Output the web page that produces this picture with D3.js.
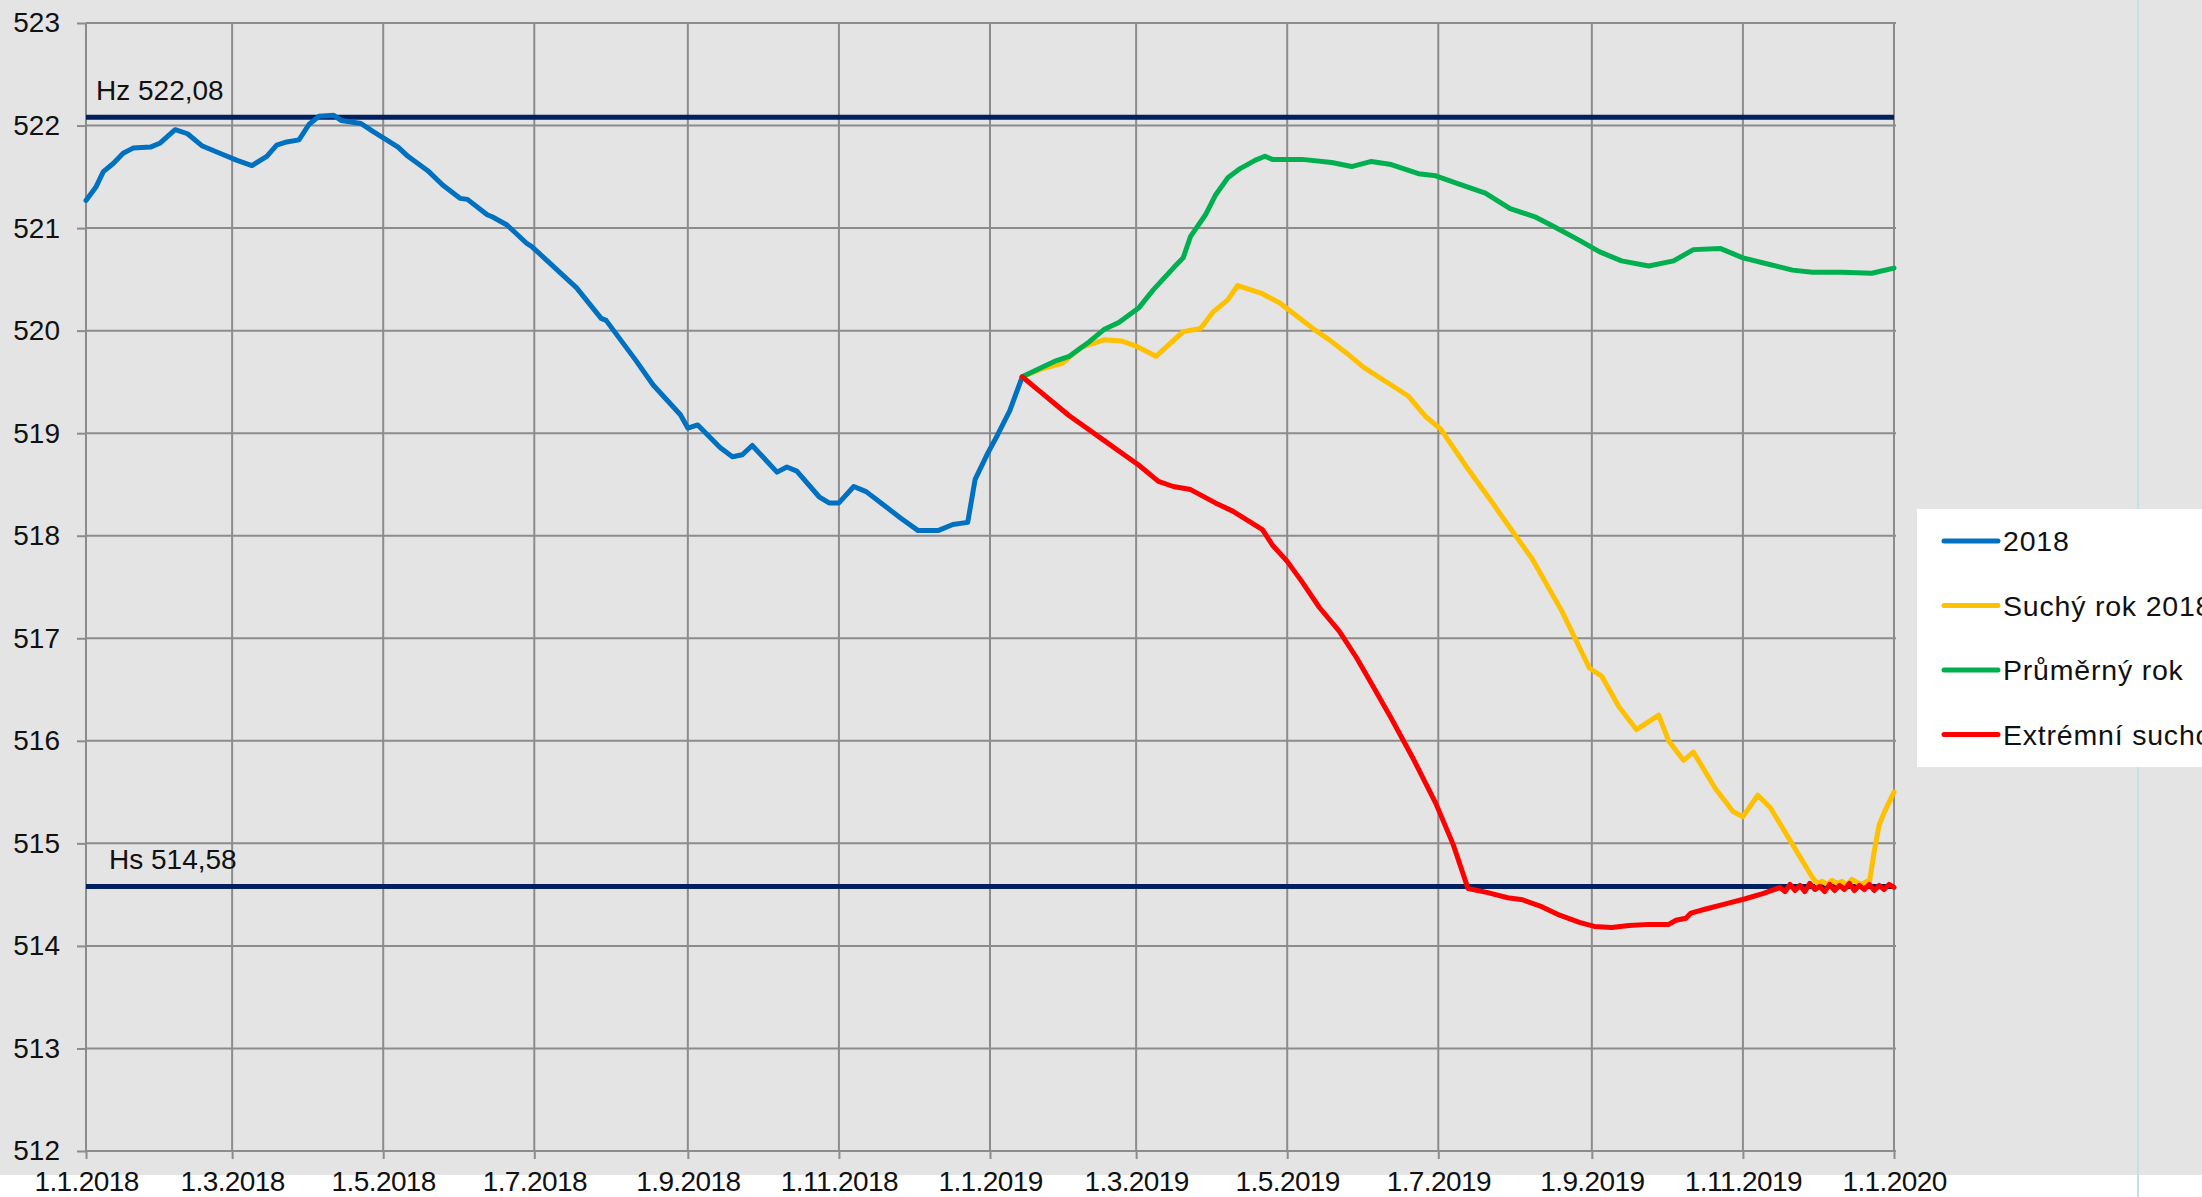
<!DOCTYPE html>
<html>
<head>
<meta charset="utf-8">
<script src="https://cdn.jsdelivr.net/npm/d3@7"></script>
<style>
  body { margin: 0; background: #fff; }
  svg { display: block; font-family: "Liberation Sans", Arial, sans-serif; }
</style>
</head>
<body>
<svg id="chart"></svg>
<script>
// day offsets are counted from 1.1.2018
const seriesNames = ["2018", "Suchý rok 2018", "Průměrný rok", "Extrémní sucho"];
const seriesColors = ["#0070C0", "#FFC000", "#00B050", "#FF0000"];

const blueDay = [0, 4, 7, 11, 15, 19, 26, 30, 36, 41, 47, 55, 61, 67, 73, 77, 81, 86, 90, 94, 100, 103, 111, 116, 126, 130, 138, 144, 151, 154, 162, 164, 170, 178, 180, 189, 198, 208, 210, 222, 229, 240, 243, 247, 256, 261, 265, 269, 279, 283, 287, 296, 300, 304, 310, 315, 321, 329, 336, 344, 350, 356, 359, 364, 368, 373, 378];
const blueVal = [521.27, 521.40, 521.55, 521.63, 521.73, 521.78, 521.79, 521.83, 521.96, 521.92, 521.80, 521.72, 521.66, 521.61, 521.70, 521.81, 521.84, 521.86, 522.01, 522.09, 522.10, 522.05, 522.02, 521.94, 521.79, 521.70, 521.56, 521.42, 521.29, 521.28, 521.13, 521.11, 521.03, 520.85, 520.82, 520.62, 520.42, 520.12, 520.10, 519.71, 519.47, 519.18, 519.05, 519.08, 518.86, 518.77, 518.79, 518.88, 518.62, 518.67, 518.63, 518.38, 518.32, 518.32, 518.48, 518.43, 518.32, 518.17, 518.05, 518.05, 518.11, 518.13, 518.55, 518.80, 518.98, 519.22, 519.55];

const yellowDay = [378, 385, 394, 402, 411, 418, 424, 432, 438, 443, 450, 455, 461, 465, 475, 482, 489, 496, 502, 509, 516, 527, 534, 541, 547, 558, 567, 574, 584, 596, 607, 612, 619, 626, 635, 639, 645, 649, 658, 665, 669, 675, 680, 689, 697, 699, 701, 703, 705, 707, 709, 711, 713, 715, 717, 719, 720, 722, 724, 726, 728, 730];
const yellowVal = [519.55, 519.62, 519.68, 519.84, 519.91, 519.90, 519.85, 519.75, 519.88, 519.99, 520.02, 520.18, 520.30, 520.44, 520.36, 520.27, 520.14, 520.01, 519.91, 519.78, 519.64, 519.47, 519.36, 519.16, 519.04, 518.65, 518.35, 518.11, 517.77, 517.26, 516.71, 516.63, 516.33, 516.11, 516.25, 516.00, 515.81, 515.89, 515.53, 515.31, 515.26, 515.47, 515.35, 514.99, 514.67, 514.61, 514.63, 514.60, 514.64, 514.61, 514.63, 514.59, 514.65, 514.62, 514.60, 514.63, 514.61, 514.92, 515.18, 515.30, 515.40, 515.50];

const greenDay = [378, 385, 391, 397, 405, 411, 417, 425, 431, 439, 443, 446, 452, 456, 461, 466, 472, 476, 479, 491, 503, 511, 519, 527, 538, 545, 553, 565, 575, 585, 593, 603, 611, 620, 631, 641, 649, 660, 669, 679, 689, 697, 709, 721, 730];
const greenVal = [519.55, 519.63, 519.70, 519.75, 519.89, 520.01, 520.08, 520.22, 520.40, 520.61, 520.71, 520.92, 521.13, 521.32, 521.49, 521.58, 521.66, 521.70, 521.67, 521.67, 521.64, 521.60, 521.65, 521.62, 521.53, 521.51, 521.44, 521.34, 521.19, 521.11, 521.01, 520.88, 520.77, 520.68, 520.63, 520.68, 520.79, 520.80, 520.71, 520.65, 520.59, 520.57, 520.57, 520.56, 520.61];

const redDay = [378, 385, 392, 397, 404, 411, 418, 425, 433, 439, 446, 456, 463, 469, 475, 479, 485, 491, 498, 506, 513, 519, 527, 536, 545, 552, 558, 566, 574, 580, 588, 595, 603, 609, 616, 623, 631, 639, 642, 646, 648, 654, 662, 670, 677, 684, 686, 688, 690, 692, 694, 696, 698, 700, 702, 704, 706, 708, 710, 712, 714, 716, 718, 720, 722, 724, 726, 728, 730];
const redVal = [519.55, 519.41, 519.27, 519.17, 519.05, 518.93, 518.81, 518.69, 518.53, 518.48, 518.45, 518.32, 518.24, 518.15, 518.06, 517.91, 517.75, 517.55, 517.30, 517.07, 516.81, 516.56, 516.22, 515.82, 515.39, 514.99, 514.56, 514.52, 514.47, 514.45, 514.38, 514.30, 514.23, 514.19, 514.18, 514.20, 514.21, 514.21, 514.25, 514.27, 514.32, 514.36, 514.41, 514.46, 514.51, 514.57, 514.53, 514.60, 514.54, 514.59, 514.53, 514.61, 514.55, 514.58, 514.53, 514.60, 514.54, 514.59, 514.55, 514.61, 514.54, 514.59, 514.55, 514.60, 514.54, 514.59, 514.55, 514.60, 514.57];

const refLevels = [522.08, 514.58];
const refLabels = ["Hz 522,08", "Hs 514,58"];
const yTicks = [512, 513, 514, 515, 516, 517, 518, 519, 520, 521, 522, 523];

const dims = {
  width: 2202,
  height: 1197,
  bgHeight: 1175,
  left: 86,
  right: 1894,
  top: 23,
  bottom: 1151,
};

const start = new Date(Date.UTC(2018, 0, 1));
const end = new Date(Date.UTC(2020, 0, 1));

const svg = d3
  .select("#chart")
  .attr("width", dims.width)
  .attr("height", dims.height);

svg.append("rect").attr("width", dims.width).attr("height", dims.bgHeight).attr("fill", "#e4e4e4");

// stray sheet line on the right
svg
  .append("line")
  .attr("x1", 2138).attr("x2", 2138)
  .attr("y1", 0).attr("y2", dims.height)
  .attr("stroke", "#c6e0e6")
  .attr("stroke-width", 2);

const x = d3.scaleUtc().domain([start, end]).range([dims.left, dims.right]);
const y = d3.scaleLinear().domain([512, 523]).range([dims.bottom, dims.top]);

const xTicks = d3.utcMonth.every(2).range(start, d3.utcDay.offset(end, 1));
const fmt = d3.utcFormat("%-d.%-m.%Y");

// grid
const grid = svg.append("g").attr("stroke", "#8c8c8c").attr("stroke-width", 2);
grid
  .selectAll("line.h")
  .data(yTicks)
  .join("line")
  .attr("x1", dims.left)
  .attr("x2", dims.right + 2)
  .attr("y1", (d) => y(d))
  .attr("y2", (d) => y(d));
grid
  .selectAll("line.v")
  .data(xTicks)
  .join("line")
  .attr("x1", (d) => x(d))
  .attr("x2", (d) => x(d))
  .attr("y1", dims.top)
  .attr("y2", dims.bottom);

svg
  .append("g")
  .attr("transform", `translate(${dims.left},0)`)
  .call(d3.axisLeft(y).tickValues(yTicks).tickSize(9).tickPadding(17).tickFormat(d3.format("d")))
  .call((g) => {
    g.select("path.domain").remove();
    g.selectAll(".tick line").attr("stroke", "#8c8c8c").attr("stroke-width", 2);
    g.selectAll(".tick text")
      .attr("font-size", 28)
      .attr("font-family", "Liberation Sans, Arial")
      .attr("fill", "#111");
  });

svg
  .append("g")
  .attr("transform", `translate(0,${dims.bottom})`)
  .call(d3.axisBottom(x).tickValues(xTicks).tickSize(8).tickPadding(12).tickFormat(fmt))
  .call((g) => {
    g.select("path.domain").remove();
    g.selectAll(".tick line").attr("stroke", "#8c8c8c").attr("stroke-width", 2);
    g.selectAll(".tick text")
      .attr("font-size", 28)
      .attr("font-family", "Liberation Sans, Arial")
      .attr("letter-spacing", -0.6)
      .attr("fill", "#111");
  });

// Hz / Hs levels
svg
  .append("g")
  .selectAll("line")
  .data(refLevels)
  .join("line")
  .attr("x1", dims.left)
  .attr("x2", dims.right)
  .attr("y1", (d) => y(d))
  .attr("y2", (d) => y(d))
  .attr("stroke", "#002060")
  .attr("stroke-width", 5);

svg
  .append("g")
  .selectAll("text")
  .data(refLabels)
  .join("text")
  .attr("x", (d, i) => (i === 0 ? 96 : 109))
  .attr("y", (d, i) => y(refLevels[i]) - 17)
  .attr("font-size", 28)
  .attr("fill", "#111")
  .text((d) => d);

const series = [
  [blueDay, blueVal],
  [yellowDay, yellowVal],
  [greenDay, greenVal],
  [redDay, redVal],
].map(([days, vals], i) => ({
  name: seriesNames[i],
  color: seriesColors[i],
  points: days.map((d, j) => ({ date: d3.utcDay.offset(start, d), value: vals[j] })),
}));

const line = d3
  .line()
  .x((d) => x(d.date))
  .y((d) => y(d.value));

svg
  .append("g")
  .selectAll("path")
  .data(series)
  .join("path")
  .attr("d", (d) => line(d.points))
  .attr("fill", "none")
  .attr("stroke", (d) => d.color)
  .attr("stroke-width", 5)
  .attr("stroke-linejoin", "round")
  .attr("stroke-linecap", "round");

// legend (runs off the right edge, as in the original)
const legend = svg.append("g").attr("transform", "translate(1917,509)");
legend.append("rect").attr("width", 300).attr("height", 258).attr("fill", "#fff");
const rows = legend
  .selectAll("g")
  .data(series)
  .join("g")
  .attr("transform", (d, i) => `translate(0,${32 + i * 64.5})`);
rows
  .append("line")
  .attr("x1", 27)
  .attr("x2", 81)
  .attr("stroke", (d) => d.color)
  .attr("stroke-width", 5)
  .attr("stroke-linecap", "round");
rows
  .append("text")
  .attr("x", 86)
  .attr("y", 10)
  .attr("font-size", 28.5)
  .attr("letter-spacing", 0.8)
  .attr("fill", "#111")
  .text((d) => d.name);
</script>
</body>
</html>
